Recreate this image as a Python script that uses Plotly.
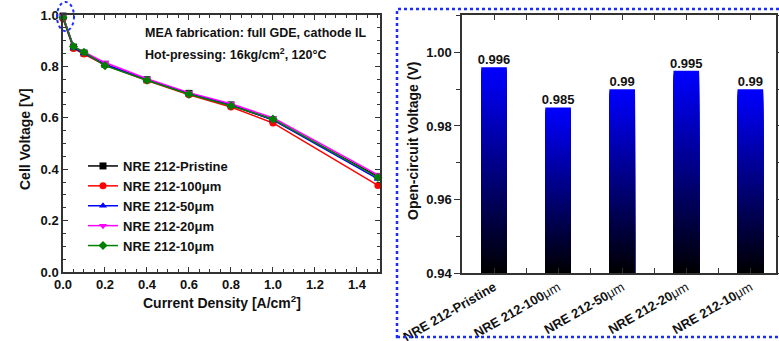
import plotly.graph_objects as go

# ---------------- data ----------------
current_density = [0, 0.05, 0.1, 0.2, 0.4, 0.6, 0.8, 1.0, 1.5]
v_pristine = [0.996, 0.875, 0.852, 0.808, 0.748, 0.695, 0.650, 0.592, 0.372]
v_100um = [0.985, 0.870, 0.848, 0.805, 0.745, 0.690, 0.642, 0.580, 0.337]
v_50um = [0.990, 0.873, 0.851, 0.808, 0.748, 0.694, 0.650, 0.592, 0.362]
v_20um = [0.995, 0.878, 0.856, 0.815, 0.752, 0.698, 0.655, 0.600, 0.378]
v_10um = [0.990, 0.877, 0.855, 0.803, 0.746, 0.692, 0.647, 0.595, 0.368]

series_names = ["NRE 212-Pristine", "NRE 212-100μm", "NRE 212-50μm",
                "NRE 212-20μm", "NRE 212-10μm"]
series_colors = ["#000000", "#ff0000", "#0000ff", "#ff00ff", "#008000"]
series_symbols = ["square", "circle", "triangle-up", "triangle-down", "diamond"]

bar_categories = ["NRE 212-Pristine", "NRE 212-100μm", "NRE 212-50μm",
                  "NRE 212-20μm", "NRE 212-10μm"]
ocv_values = [0.996, 0.985, 0.99, 0.995, 0.99]

# ---------------- figure ----------------
W, H = 779, 341
FONT = "Arial, Liberation Sans, sans-serif"
fig = go.Figure()

series_values = [v_pristine, v_100um, v_50um, v_20um, v_10um]
for name, vals, col, sym in zip(series_names, series_values, series_colors, series_symbols):
    fig.add_trace(go.Scatter(
        x=current_density, y=vals, name=name, mode="lines+markers",
        line=dict(color=col, width=1.5),
        marker=dict(color=col, symbol=sym, size=7),
        cliponaxis=False, xaxis="x", yaxis="y"))

# gradient bars: overlaid bars of decreasing height, blue (full) -> black (short)
base0 = 0.94
N = 80
idx = list(range(len(ocv_values)))
for k in range(N, 0, -1):
    f = k / N
    col = "rgb(0,0,%d)" % round(255 * f)
    heights = [(v - base0) * f for v in ocv_values]
    fig.add_trace(go.Bar(
        x=idx, y=heights, base=base0, width=0.4,
        marker=dict(color=col, line=dict(width=0)),
        showlegend=False, hoverinfo="skip", xaxis="x2", yaxis="y2"))

fig.add_trace(go.Scatter(
    x=idx, y=ocv_values, mode="text", text=[str(v) for v in ocv_values],
    textposition="top center",
    textfont=dict(family=FONT, size=13, color="#111", weight="bold"),
    showlegend=False, cliponaxis=False, xaxis="x2", yaxis="y2"))

axis_common = dict(showline=True, linecolor="#333", linewidth=1.5, mirror="ticks",
                   showgrid=False, zeroline=False, automargin=False,
                   tickfont=dict(family=FONT, size=13, color="#111", weight="bold"),
                   tickcolor="#333")

def px(x):
    return x / W

def py(y):
    return 1 - y / H

fig.update_layout(
    width=W, height=H, margin=dict(l=0, r=0, t=0, b=0, autoexpand=False),
    paper_bgcolor="white", plot_bgcolor="white",
    barmode="overlay",
    xaxis=dict(domain=[px(63), px(380)], range=[0, 1.51],
               tickvals=[0, 0.2, 0.4, 0.6, 0.8, 1.0, 1.2, 1.4], tickformat=".1f",
               ticks="inside", ticklen=5,
               minor=dict(dtick=0.05, tick0=0, ticks="inside", ticklen=3, tickcolor="#333"),
               anchor="y", **axis_common),
    yaxis=dict(domain=[py(272), py(15)], range=[0, 1.0],
               tickvals=[0, 0.2, 0.4, 0.6, 0.8, 1.0], tickformat=".1f",
               ticks="inside", ticklen=5,
               minor=dict(dtick=0.05, tick0=0, ticks="inside", ticklen=3, tickcolor="#333"),
               anchor="x", **axis_common),
    xaxis2=dict(domain=[px(462), px(776)], range=[-0.5, 4.4],
                tickvals=idx,
                ticktext=[c.replace("μm", "<span style='font-weight:normal'>μm</span>") for c in bar_categories],
                tickangle=-30, ticks="inside", ticklen=5,
                minor=dict(tickvals=[-0.5, 0.5, 1.5, 2.5, 3.5], ticks="inside", ticklen=5, tickcolor="#333"),
                anchor="y2", **axis_common),
    yaxis2=dict(domain=[py(273), py(15)], range=[0.94, 1.0102],
                tickvals=[0.94, 0.96, 0.98, 1.00], tickformat=".2f",
                ticks="outside", ticklen=6,
                minor=dict(dtick=0.01, tick0=0.94, ticks="outside", ticklen=4, tickcolor="#333"),
                anchor="x2", **axis_common),
    legend=dict(x=px(83), y=py(151), xanchor="left", yanchor="top",
                bgcolor="rgba(0,0,0,0)", borderwidth=0,
                font=dict(family=FONT, size=13, color="#111", weight="bold"),
                tracegroupgap=0),
    showlegend=True,
)

annots = [
    dict(text="MEA fabrication: full GDE, cathode IL", x=px(143), y=py(33)),
    dict(text="Hot-pressing: 16kg/cm<sup>2</sup>, 120°C", x=px(143), y=py(54)),
]
for a in annots:
    fig.add_annotation(xref="paper", yref="paper", x=a["x"], y=a["y"],
                       xanchor="left", yanchor="middle", showarrow=False, text=a["text"],
                       font=dict(family=FONT, size=12.5, color="#111", weight="bold"))

# axis titles
fig.add_annotation(xref="paper", yref="paper", x=px(222), y=py(302), showarrow=False,
                   xanchor="center", yanchor="middle",
                   text="Current Density [A/cm<sup>2</sup>]",
                   font=dict(family=FONT, size=14, color="#111", weight="bold"))
fig.add_annotation(xref="paper", yref="paper", x=px(25), y=py(139), showarrow=False,
                   xanchor="center", yanchor="middle",
                   text="Cell Voltage [V]", textangle=-90,
                   font=dict(family=FONT, size=14, color="#111", weight="bold"))
fig.add_annotation(xref="paper", yref="paper", x=px(413), y=py(141), showarrow=False,
                   xanchor="center", yanchor="middle",
                   text="Open-circuit Voltage (V)", textangle=-90,
                   font=dict(family=FONT, size=14, color="#111", weight="bold"))

# decorative dotted outlines
fig.add_shape(type="rect", xref="paper", yref="paper",
              x0=px(397), x1=px(790), y0=py(337), y1=py(9),
              line=dict(color="#1a2cff", width=2.5, dash="dot"))
fig.add_shape(type="circle", xref="paper", yref="paper",
              x0=px(57), x1=px(74), y0=py(31), y1=py(2),
              line=dict(color="#1a2cff", width=2, dash="dot"))

fig.write_html("out.html")
